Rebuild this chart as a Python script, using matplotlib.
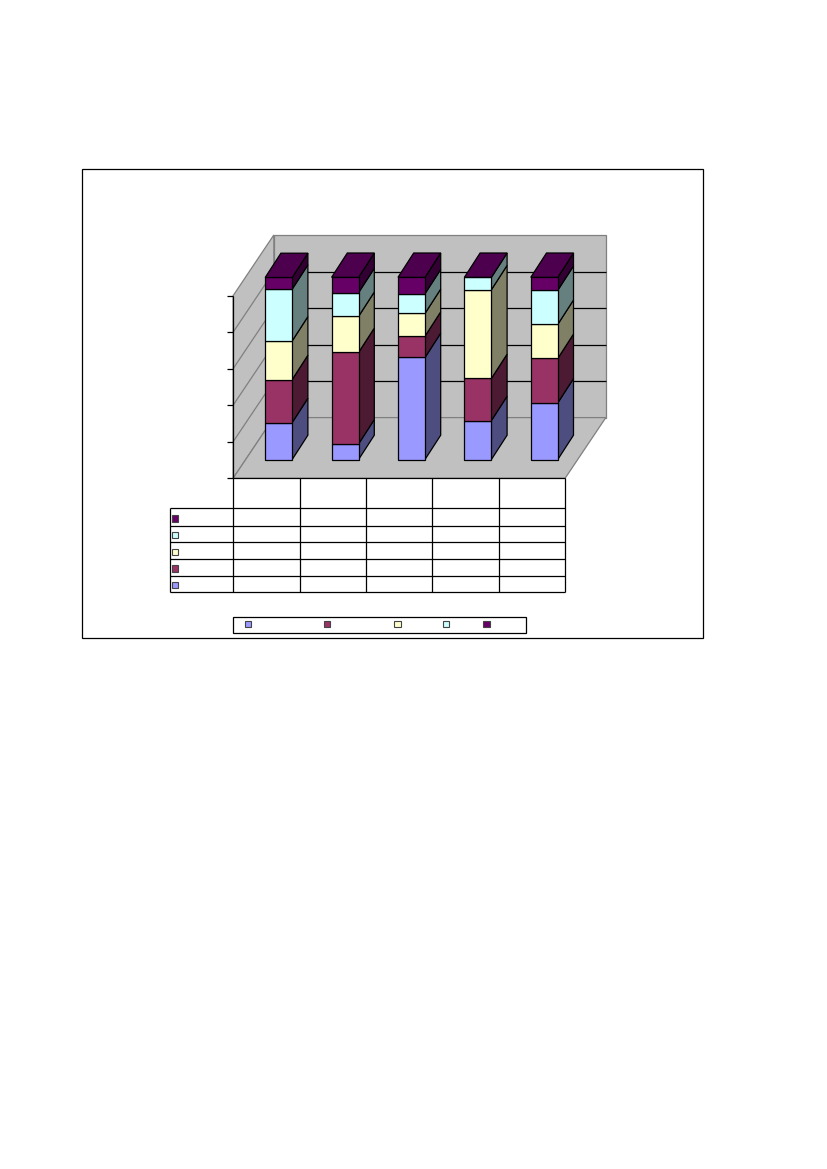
import matplotlib
matplotlib.use("Agg")
import matplotlib.pyplot as plt
import numpy as np

W, H = 827, 1169

# percent share of each series per category
# (the reference shows no legible labels, only the marks)
series_1 = [20.3, 8.6, 56.0, 21.4, 31.1]
series_2 = [23.6, 50.2, 11.7, 23.1, 24.4]
series_3 = [21.2, 19.8, 12.5, 48.7, 18.7]
series_4 = [28.4, 13.0, 10.8, 6.8, 18.7]
series_5 = [6.4, 8.4, 9.0, 0.0, 7.1]
value_ticks = [0, 20, 40, 60, 80, 100]

front_colors = ['#9999FF', '#993366', '#FFFFCC', '#CCFFFF', '#660066']
side_colors = ['#4D4D80', '#4D1A33', '#808066', '#668080', '#330033']
top_color = '#4D004D'
wall_color = '#C0C0C0'
wall_edge = '#808080'
line_w = 0.9
x_shift = 0.4

# page axes, in pixels of the image
fig = plt.figure(figsize=(W / 100, H / 100), dpi=100, facecolor='white')
page = fig.add_axes([0, 0, 1, 1])
page.set_xlim(x_shift, W + x_shift)
page.set_ylim(H, 0)
page.axis('off')


def line(xs, ys, color='black', lw=line_w):
    page.plot(xs, ys, color=color, lw=lw, solid_capstyle='butt')


def key(x, y, color, size=6.5):
    page.fill([x - size / 2, x + size / 2, x + size / 2, x - size / 2],
              [y - size / 2, y - size / 2, y + size / 2, y + size / 2],
              facecolor=color, edgecolor='#444444', lw=0.8)


# chart frame
page.fill([82.4, 703.4, 703.4, 82.4], [169, 169, 638, 638], facecolor='white',
          edgecolor='black', lw=line_w)

# walls and floor
x0, x1 = 233.5, 565.5
y_floor, y_top = 478.3, 295.7
depth_x, depth_y = 40.7, -60.7
page.fill([x0 + depth_x, x1 + depth_x, x1 + depth_x, x0 + depth_x],
          [y_top + depth_y, y_top + depth_y, y_floor + depth_y, y_floor + depth_y],
          facecolor=wall_color, edgecolor=wall_edge, lw=line_w)
page.fill([x0, x0 + depth_x, x0 + depth_x, x0],
          [y_top, y_top + depth_y, y_floor + depth_y, y_floor],
          facecolor=wall_color, edgecolor=wall_edge, lw=line_w)
page.fill([x0, x1, x1 + depth_x, x0 + depth_x],
          [y_floor, y_floor, y_floor + depth_y, y_floor + depth_y],
          facecolor=wall_color, edgecolor=wall_edge, lw=line_w)

# gridlines, value axis and its ticks
for v in value_ticks:
    y = y_floor - (y_floor - y_top) * v / 100
    line([x0 - 6, x0], [y, y])
    if 0 < v < 100:
        line([x0, x0 + depth_x], [y, y + depth_y], color=wall_edge)
        line([x0 + depth_x, x1 + depth_x], [y + depth_y, y + depth_y])
line([x0, x0], [y_top, y_floor])

# data table
col_x = np.linspace(x0, x1, 6)
row_y = [508.3, 526.3, 542.3, 559.3, 576.3, 592.3]
table_left = 170.3
line([x0, x1], [y_floor, y_floor])
for x in col_x:
    line([x, x], [y_floor, row_y[-1]])
for y in row_y:
    line([table_left, x1], [y, y])
line([table_left, table_left], [row_y[0], row_y[-1]])
key_y = [518.3, 535, 552, 568.6, 585.2]
for y, color in zip(key_y, front_colors[::-1]):
    key(175.3, y, color)

# legend
page.fill([233.5, 526.7, 526.7, 233.5], [617, 617, 632.5, 632.5], facecolor='white',
          edgecolor='black', lw=line_w)
for x, color in zip([248.3, 327.3, 397.7, 446.3, 486.7], front_colors):
    key(x, 623.8, color)

# bars live in their own axes, lying on the front plane of the columns
bar_left, bar_base, bar_h = 245.5, 459.5, 182.2
bar_w_px = x1 - x0
ax = fig.add_axes([bar_left / W, (H - bar_base) / H, bar_w_px / W, bar_h / H])
ax.set_xlim(0, 5)
ax.set_ylim(0, 100)
ax.axis('off')
ax.patch.set_alpha(0)

all_series = [series_1, series_2, series_3, series_4, series_5]
positions = np.arange(5) + 0.5
width = 27 / (bar_w_px / 5)
dx = 15.7 / (bar_w_px / 5)
dy = 24.3 / (bar_h / 100)

bottom = np.zeros(5)
for vals, front, side in zip(all_series, front_colors, side_colors):
    vals = np.array(vals)
    for i, pos in enumerate(positions):
        if vals[i] <= 0:
            continue
        r = pos + width / 2
        ax.fill([r, r + dx, r + dx, r],
                [bottom[i], bottom[i] + dy, bottom[i] + vals[i] + dy, bottom[i] + vals[i]],
                facecolor=side, edgecolor='black', lw=line_w, clip_on=False, zorder=2)
    ax.bar(positions, vals, width=width, bottom=bottom, color=front, edgecolor='black',
           lw=line_w, clip_on=False, zorder=3)
    bottom = bottom + vals

for i, pos in enumerate(positions):
    l, r = pos - width / 2, pos + width / 2
    t = bottom[i]
    ax.fill([l, r, r + dx, l + dx], [t, t, t + dy, t + dy], facecolor=top_color,
            edgecolor='black', lw=line_w, clip_on=False, zorder=4)

fig.savefig("out.png", dpi=100, facecolor='white')
